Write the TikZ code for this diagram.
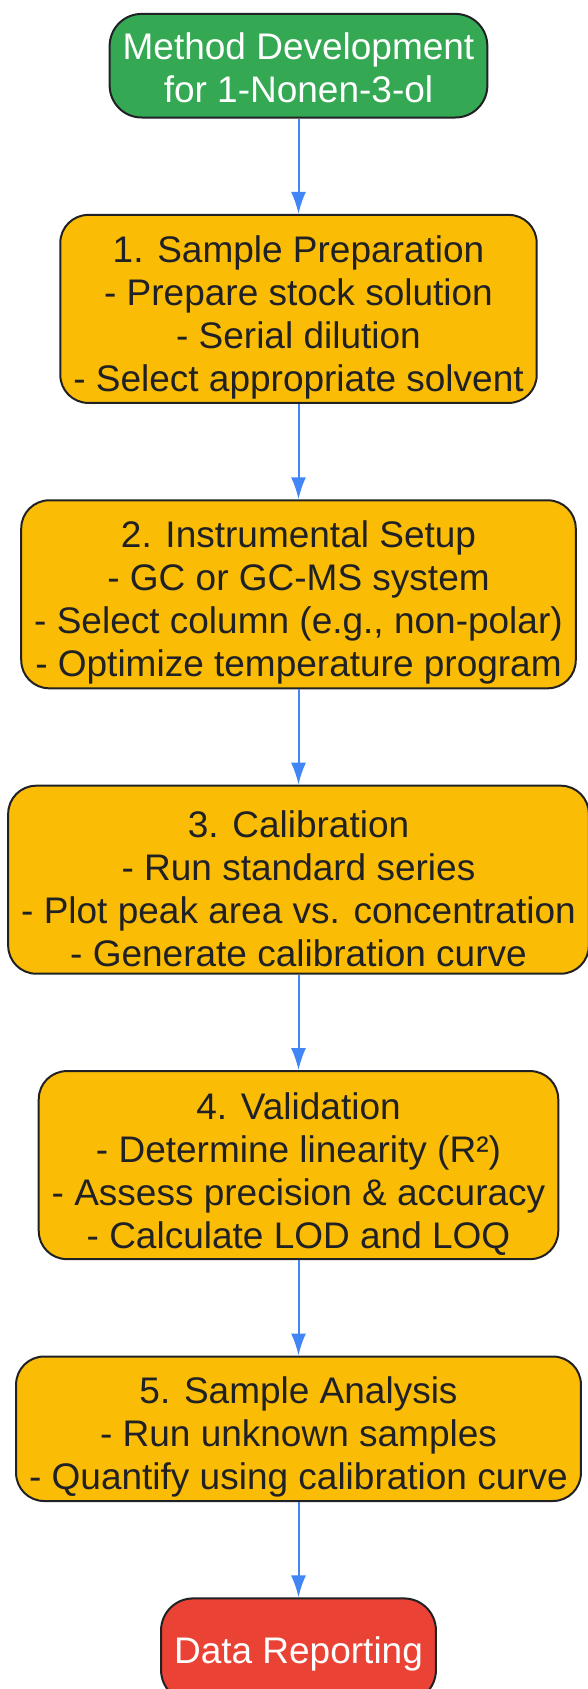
\documentclass[tikz,border=0pt]{standalone}
\usepackage{fontspec}
\setmainfont{Liberation Sans}
\usepackage{tikz}
\usetikzlibrary{positioning}
\usetikzlibrary{arrows.meta}

\definecolor{startgreen}{HTML}{34A853}
\definecolor{stepyellow}{HTML}{FBBC05}
\definecolor{endred}{HTML}{EA4335}
\definecolor{flowblue}{HTML}{4285F4}
\definecolor{inkdark}{HTML}{202124}

% empty strut that pushes the first line down a little
\newcommand{\lift}[1]{\rule{0pt}{#1}}

\tikzset{
    stage/.style={draw=inkdark, line width=2pt, rounded corners=28pt, align=center,
        inner xsep=13pt, inner ysep=0pt, fill=stepyellow, text=inkdark,
        font=\fontsize{37}{43}\selectfont},
    terminal/.style={stage, text=white, rounded corners=32pt, minimum height=103.6pt},
    flow/.style={->, >={Latex[length=22pt,width=15pt]}, draw=flowblue, line width=2pt}
}

\begin{document}
\begin{tikzpicture}[x=1pt,y=1pt]
                \def \gap {95.4pt}
                \useasboundingbox (0,0) rectangle (587,-1689);
                \node[terminal, fill=startgreen] (start) at (298.5,-65.7) {\lift{31pt}Method Development\\for 1-Nonen-3-ol};
                \node[stage, below=\gap of start, minimum height=188pt] (prep) {\lift{44pt}1. Sample Preparation\\- Prepare stock solution\\- Serial dilution\\- Select appropriate solvent};
                \node[stage, below=\gap of prep, minimum height=188pt] (setup) {\lift{44pt}2. Instrumental Setup\\- GC or GC-MS system\\- Select column (e.g., non-polar)\\- Optimize temperature program};
                \node[stage, below=\gap of setup, minimum height=188pt] (calib) {\lift{44pt}3. Calibration\\- Run standard series\\- Plot peak area vs. concentration\\- Generate calibration curve};
                \node[stage, below=\gap of calib, minimum height=188pt] (valid) {\lift{44pt}4. Validation\\- Determine linearity (R²)\\- Assess precision \& accuracy\\- Calculate LOD and LOQ};
                \node[stage, below=\gap of valid, minimum height=144.5pt] (analysis) {\lift{44pt}5. Sample Analysis\\- Run unknown samples\\- Quantify using calibration curve};
                \node[terminal, below=\gap of analysis, fill=endred] (report) {\lift{34pt}Data Reporting};
                \foreach \a/\b in {start/prep,prep/setup,setup/calib,calib/valid,valid/analysis,analysis/report}
                {
                    \draw[flow] (\a) -- (\b);
                }
            \end{tikzpicture}
\end{document}
